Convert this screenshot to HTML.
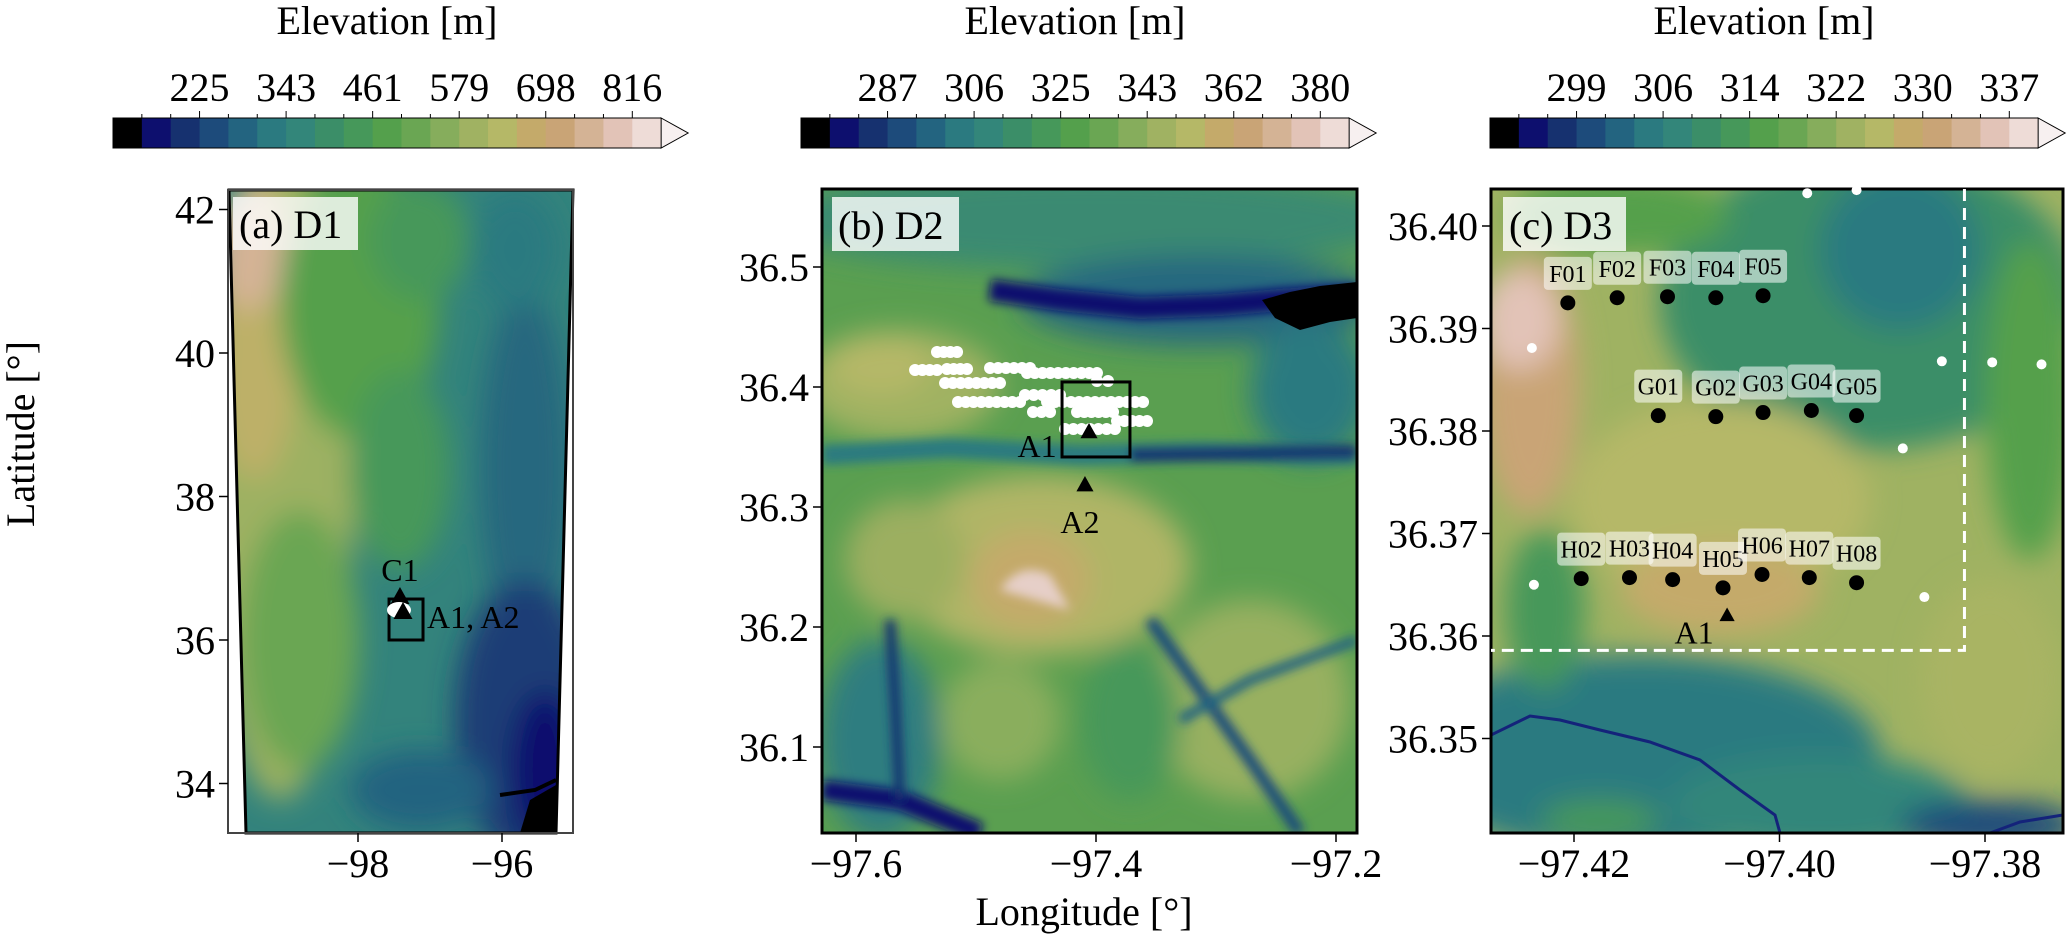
<!DOCTYPE html>
<html><head><meta charset="utf-8"><style>
html,body{margin:0;padding:0;background:#fff;}
svg{display:block;font-family:"Liberation Serif",serif;}
</style></head><body>
<svg id="fig" width="2067" height="934" viewBox="0 0 2067 934" xmlns="http://www.w3.org/2000/svg">
<defs>
<filter id="blur" x="-20%" y="-20%" width="140%" height="140%"><feGaussianBlur stdDeviation="14"/></filter>
<filter id="blur2"><feGaussianBlur stdDeviation="5"/></filter>
<clipPath id="clipA"><polygon points="229,190 573,190 556,833 246,833"/></clipPath>
<clipPath id="clipB"><rect x="822" y="189" width="535" height="644"/></clipPath>
<clipPath id="clipC"><rect x="1491" y="189" width="572" height="644"/></clipPath>
</defs>

<g id="colorbars"></g>

<!-- Panel A terrain -->
<g clip-path="url(#clipA)">
<rect x="228" y="190" width="346" height="644" fill="#33837c"/>
<g filter="url(#blur)">
<ellipse cx="280" cy="470" rx="75" ry="330" fill="#9db162"/>
<ellipse cx="255" cy="330" rx="45" ry="150" fill="#bdb068"/>
<ellipse cx="250" cy="250" rx="35" ry="60" fill="#d4b395"/>
<ellipse cx="360" cy="300" rx="80" ry="140" fill="#54a04c"/>
<ellipse cx="420" cy="240" rx="50" ry="60" fill="#46985a"/>
<ellipse cx="300" cy="640" rx="60" ry="130" fill="#6aa653"/>
<ellipse cx="400" cy="470" rx="50" ry="100" fill="#46985a"/>
<ellipse cx="525" cy="470" rx="45" ry="180" fill="#26687f"/>
<ellipse cx="525" cy="720" rx="70" ry="140" fill="#1a3d76"/>
<ellipse cx="545" cy="770" rx="35" ry="80" fill="#0d0f6e"/>
<ellipse cx="515" cy="250" rx="45" ry="60" fill="#2b7a80"/>
<ellipse cx="420" cy="790" rx="70" ry="40" fill="#236480"/>
</g>
<polygon points="530,800 556,785 556,833 520,833" fill="#000"/>
<path d="M500,795 L535,790 L556,780" stroke="#000" stroke-width="4" fill="none"/>
</g>
<polygon points="229,190 573,190 556,833 246,833" fill="none" stroke="#000" stroke-width="3"/>
<rect x="228" y="190" width="345" height="643" fill="none" stroke="#444" stroke-width="2"/>

<!-- Panel B terrain -->
<g clip-path="url(#clipB)">
<rect x="822" y="189" width="535" height="644" fill="#5a9f50"/>
<g filter="url(#blur)">
<ellipse cx="1090" cy="220" rx="320" ry="50" fill="#3b8a72"/>
<ellipse cx="1200" cy="300" rx="180" ry="45" fill="#26687f"/>
<ellipse cx="1310" cy="390" rx="60" ry="70" fill="#2b7a80"/>
<ellipse cx="900" cy="385" rx="100" ry="55" fill="#a0b262"/>
<ellipse cx="880" cy="365" rx="50" ry="30" fill="#b5b867"/>
<ellipse cx="1040" cy="565" rx="150" ry="90" fill="#b0b566"/>
<ellipse cx="1030" cy="580" rx="60" ry="50" fill="#c4aa6a"/>
<ellipse cx="905" cy="560" rx="60" ry="60" fill="#9caf60"/>
<ellipse cx="880" cy="740" rx="60" ry="100" fill="#2f7d80"/>
<ellipse cx="1250" cy="700" rx="100" ry="100" fill="#98b060"/>
<ellipse cx="1130" cy="720" rx="50" ry="80" fill="#46985a"/>
<ellipse cx="1000" cy="720" rx="60" ry="60" fill="#8aae5d"/>
</g>
<g filter="url(#blur2)">
<path d="M990,290 L1060,300 L1140,308 L1220,305 L1280,300 L1357,295" stroke="#0d0f6e" stroke-width="22" fill="none"/>
<path d="M822,455 L950,448 L1080,455 L1200,452 L1357,455" stroke="#2b7a80" stroke-width="20" fill="none"/>
<path d="M1130,455 L1357,452" stroke="#16316f" stroke-width="14" fill="none"/>
<path d="M1000,590 Q1020,560 1050,575 L1070,610 Z" fill="#e6cfc8"/>
<path d="M822,790 L900,800 L980,833" stroke="#0d0f6e" stroke-width="20" fill="none"/>
<path d="M890,620 L895,700 L900,800" stroke="#16316f" stroke-width="10" fill="none"/>
<path d="M1150,620 L1250,760 L1300,833" stroke="#1d4b7b" stroke-width="12" fill="none"/>
<path d="M1357,640 L1250,680 L1180,720" stroke="#236480" stroke-width="10" fill="none"/>
</g>
<path d="M1262,300 L1290,292 L1320,286 L1357,282 L1357,318 L1330,322 L1300,330 L1275,318 Z" fill="#000"/>
</g>
<rect x="822" y="189" width="535" height="644" fill="none" stroke="#000" stroke-width="3"/>

<!-- Panel C terrain -->
<g clip-path="url(#clipC)">
<rect x="1491" y="189" width="572" height="644" fill="#9fb262"/>
<g filter="url(#blur)">
<ellipse cx="1870" cy="300" rx="210" ry="150" fill="#3b8e68"/>
<ellipse cx="1900" cy="250" rx="80" ry="80" fill="#2b7a80"/>
<ellipse cx="2030" cy="400" rx="45" ry="160" fill="#54a04c"/>
<ellipse cx="1620" cy="215" rx="110" ry="40" fill="#54a04c"/>
<ellipse cx="1530" cy="385" rx="50" ry="130" fill="#c9a476"/>
<ellipse cx="1520" cy="320" rx="40" ry="50" fill="#e2c3b7"/>
<ellipse cx="1720" cy="500" rx="150" ry="100" fill="#b5b867"/>
<ellipse cx="1720" cy="590" rx="100" ry="45" fill="#c4aa6a"/>
<ellipse cx="1640" cy="755" rx="240" ry="100" fill="#2b7a80"/>
<ellipse cx="1820" cy="805" rx="150" ry="50" fill="#33867a"/>
<ellipse cx="1990" cy="825" rx="90" ry="25" fill="#1d4b7b"/>
<ellipse cx="1545" cy="610" rx="40" ry="80" fill="#46985a"/>
<ellipse cx="1990" cy="680" rx="70" ry="100" fill="#a9b463"/>
<ellipse cx="1600" cy="820" rx="60" ry="20" fill="#46985a"/>
</g>
<path d="M1491,735 L1530,716 L1560,720 L1600,730 L1650,742 L1700,760 L1740,790 L1775,815 L1780,833" stroke="#14237a" stroke-width="3" fill="none"/>
<path d="M1990,833 L2020,822 L2063,815" stroke="#14237a" stroke-width="3" fill="none"/>
</g>
<rect x="1491" y="189" width="572" height="644" fill="none" stroke="#000" stroke-width="3"/>

<g id="overlay"></g>

<text x="25" y="434" font-size="40" text-anchor="middle" transform="rotate(-90 25 434)" dominant-baseline="middle">Latitude [°]</text>
<text x="1084" y="925" font-size="40" text-anchor="middle">Longitude [°]</text>
</svg>

<script>
// ---------- colorbar data ----------
const cbColors = ['#000000','#0d0f6e','#16316f','#1d4b7b','#236480','#2b7a80','#33867a','#3b8e68','#46985a','#54a04c','#6aa653','#86ad5c','#a0b262','#b5b867','#c4aa6a','#c9a476','#d4b395','#e2c3b7','#eedcd7'];
const cbArrowColor = '#f7f0f0';
const cbTicks1 = ['225','343','461','579','698','816'];
const cbTicks2 = ['287','306','325','343','362','380'];
const cbTicks3 = ['299','306','314','322','330','337'];

// ---------- panel A data ----------
const aTicksLon = [-98, -96];
const aTicksLat = [42, 40, 38, 36, 34];
const aC1 = [-97.417, 36.60];
const aA1 = [-97.375, 36.39];
const aBox = [-97.569, -97.097, 36.0, 36.571];

// ---------- panel B data ----------
const bTicksLon = [-97.6, -97.4, -97.2];
const bTicksLat = [36.5, 36.4, 36.3, 36.2, 36.1];
const bA1 = [-97.4058, 36.3625];
const bA2 = [-97.4092, 36.3183];
const bBox = [-97.4283, -97.3717, 36.3417, 36.4042];
const bTurbineRowLonStart = [-97.5325,-97.5508,-97.5242,-97.4883,-97.4575,-97.5258,-97.3992,-97.5150,-97.4592,-97.4408,-97.4525,-97.4158,-97.3825,-97.4258];
const bTurbineRowLonEnd   = [-97.5158,-97.5325,-97.5075,-97.4550,-97.3992,-97.4800,-97.3900,-97.4633,-97.4300,-97.3608,-97.4383,-97.3858,-97.3575,-97.3842];
const bTurbineRowLat      = [36.4292,36.4142,36.4150,36.4158,36.4117,36.4033,36.4050,36.3875,36.3933,36.3875,36.3792,36.3792,36.3717,36.3650];

// ---------- panel C data ----------
const cTicksLon = [-97.42, -97.40, -97.38];
const cTicksLat = [36.40, 36.39, 36.38, 36.37, 36.36, 36.35];
const cStationNames = ['F01','F02','F03','F04','F05','G01','G02','G03','G04','G05','H02','H03','H04','H05','H06','H07','H08'];
const cStationLon = [-97.4206,-97.4158,-97.4109,-97.4062,-97.4016,-97.4118,-97.4062,-97.4016,-97.3969,-97.3925,-97.4193,-97.4146,-97.4104,-97.4055,-97.4017,-97.3971,-97.3925];
const cStationLat = [36.3925,36.3930,36.3931,36.3930,36.3932,36.3815,36.3814,36.3818,36.3820,36.3815,36.3656,36.3657,36.3655,36.3647,36.3660,36.3657,36.3652];
const cA1 = [-97.4051, 36.3620];
const cTurbineLon = [-97.3973,-97.3925,-97.4241,-97.3842,-97.3793,-97.3745,-97.3880,-97.4239,-97.3859];
const cTurbineLat = [36.4032,36.4035,36.3881,36.3868,36.3867,36.3865,36.3783,36.3650,36.3638];
const cDashLon = -97.3820, cDashLat = 36.3586;

// ---------- axis functions ----------
const ax = {
  a: {x: lon => 358 + (lon + 98) * 72,     y: lat => 640 - (lat - 36) * 71.75, L:228, B:833},
  b: {x: lon => 856 + (lon + 97.6) * 1200, y: lat => 267 - (lat - 36.5) * 1200, L:822, B:833},
  c: {x: lon => 1574 + (lon + 97.42) * 10275, y: lat => 226 - (lat - 36.40) * 10250, L:1491, B:833}
};

const NS = 'http://www.w3.org/2000/svg';
function mk(tag, attrs, parent) {
  const e = document.createElementNS(NS, tag);
  for (const k in attrs) e.setAttribute(k, attrs[k]);
  parent.appendChild(e);
  return e;
}
const cbG = document.getElementById('colorbars');
const ov = document.getElementById('overlay');

// colorbars
const cbLefts = [113, 801, 1490];
const cbTickSets = [cbTicks1, cbTicks2, cbTicks3];
const cellW = 28.85, cbTop = 118, cbH = 30;
cbLefts.forEach((L, i) => {
  cbColors.forEach((c, k) => {
    const r = mk('rect', {x: L + k * cellW, y: cbTop, width: cellW + 0.6, height: cbH, fill: c}, cbG);
    
    
  });
  const end = L + cbColors.length * cellW;
  const arr = mk('polygon', {points: `${end},${cbTop} ${end + 27},${cbTop + cbH/2} ${end},${cbTop + cbH}`, fill: cbArrowColor, stroke: '#000', 'stroke-width': 1}, cbG);
  
  
  const fr = mk('path', {d: `M${end},${cbTop} L${L},${cbTop} L${L},${cbTop+cbH} L${end},${cbTop+cbH}`, fill: 'none', stroke: '#000', 'stroke-width': 1}, cbG);
  
  
  for (let k = 1; k < cbColors.length; k++) {
    const x = L + k * cellW;
    const major = k % 3 === 0;
    const t = mk('line', {x1: x, x2: x, y1: cbTop, y2: cbTop - (major ? 7 : 4), stroke: '#000', 'stroke-width': 1}, cbG);
    
    
  }
  cbTickSets[i].forEach((lab, j) => {
    const tx = mk('text', {x: L + 3 * (j + 1) * cellW, y: 101, 'font-size': 40, 'text-anchor': 'middle'}, cbG);
    tx.textContent = lab;
    
    
  });
  const ttl = mk('text', {x: L + 274, y: 34, 'font-size': 40, 'text-anchor': 'middle'}, cbG);
  ttl.textContent = 'Elevation [m]';
  
  
});

// axis ticks
function ticks(a, lons, lats, fmtLon, fmtLat) {
  lons.forEach(v => {
    const x = a.x(v);
    const t = mk('line', {x1: x, x2: x, y1: a.B, y2: a.B + 9, stroke: '#000', 'stroke-width': 1.5}, ov);
    
    
    const tx = mk('text', {x: x, y: 877, 'font-size': 40, 'text-anchor': 'middle'}, ov);
    tx.textContent = '\u2212' + fmtLon(Math.abs(v));
    
    
  });
  lats.forEach(v => {
    const y = a.y(v);
    const t = mk('line', {x1: a.L, x2: a.L - 9, y1: y, y2: y, stroke: '#000', 'stroke-width': 1.5}, ov);
    
    
    const tx = mk('text', {x: a.L - 13, y: y + 14, 'font-size': 40, 'text-anchor': 'end'}, ov);
    tx.textContent = fmtLat(v);
    
    
  });
}
ticks(ax.a, aTicksLon, aTicksLat, v => v.toFixed(0), v => v.toFixed(0));
ticks(ax.b, bTicksLon, bTicksLat, v => v.toFixed(1), v => v.toFixed(1));
ticks(ax.c, cTicksLon, cTicksLat, v => v.toFixed(2), v => v.toFixed(2));

function tri(x, y, s) {
  return `M${x},${y - s} L${x + s * 0.95},${y + s * 0.7} L${x - s * 0.95},${y + s * 0.7} Z`;
}
function label(x, y, txt, size, anchor, name) {
  const t = mk('text', {x: x, y: y, 'font-size': size, 'text-anchor': anchor || 'middle'}, ov);
  t.textContent = txt;
  
  
  return t;
}
function panelTag(x, y, w, h, txt, name) {
  const r = mk('rect', {x: x, y: y, width: w, height: h, fill: '#fff', 'fill-opacity': 0.8}, ov);
  
  
  label(x + 6, y + h - 12, txt, 40, 'start', name);
}

// panel A overlay
panelTag(233, 197, 125, 53, '(a) D1', 'panel-a-label');
{
  const a = ax.a;
  const bx = mk('rect', {x: a.x(aBox[0]), y: a.y(aBox[3]), width: a.x(aBox[1]) - a.x(aBox[0]), height: a.y(aBox[2]) - a.y(aBox[3]), fill: 'none', stroke: '#000', 'stroke-width': 3}, ov);
  
  
  const c1 = mk('path', {d: tri(a.x(aC1[0]), a.y(aC1[1]), 10), fill: '#000'}, ov);
  
  
  label(a.x(aC1[0]), a.y(aC1[1]) - 16, 'C1', 32, 'middle', 'site-c1-label');
  const wd = mk('ellipse', {cx: a.x(aA1[0]) - 4, cy: a.y(aA1[1]) - 2, rx: 12, ry: 8, fill: '#fff'}, ov);
  
  
  const a1 = mk('path', {d: tri(a.x(aA1[0]), a.y(aA1[1]), 10), fill: '#000'}, ov);
  
  
  label(a.x(aBox[1]) + 4, a.y(aA1[1]) + 16, 'A1, A2', 32, 'start', 'site-a1-a2-label');
}

// panel B overlay
panelTag(832, 197, 127, 54, '(b) D2', 'panel-b-label');
{
  const b = ax.b;
  bTurbineRowLat.forEach((lat, i) => {
    const x0 = b.x(bTurbineRowLonStart[i]), x1 = b.x(bTurbineRowLonEnd[i]);
    const n = Math.max(1, Math.round((x1 - x0) / 8));
    for (let k = 0; k <= n; k++) {
      const d = mk('circle', {cx: x0 + (x1 - x0) * k / n, cy: b.y(lat), r: 6, fill: '#fff'}, ov);
      
      
    }
  });
  const bx = mk('rect', {x: b.x(bBox[0]), y: b.y(bBox[3]), width: b.x(bBox[1]) - b.x(bBox[0]), height: b.y(bBox[2]) - b.y(bBox[3]), fill: 'none', stroke: '#000', 'stroke-width': 3}, ov);
  
  
  const a1 = mk('path', {d: tri(b.x(bA1[0]), b.y(bA1[1]), 9), fill: '#000'}, ov);
  
  
  label(b.x(bA1[0]) - 52, b.y(bA1[1]) + 25, 'A1', 32, 'middle', 'site-a1-label');
  const a2 = mk('path', {d: tri(b.x(bA2[0]), b.y(bA2[1]), 9), fill: '#000'}, ov);
  
  
  label(b.x(bA2[0]) - 5, b.y(bA2[1]) + 48, 'A2', 32, 'middle', 'site-a2-label');
}

// panel C overlay
{
  const c = ax.c;
  const dx = c.x(cDashLon), dy = c.y(cDashLat);
  const dl = mk('path', {d: `M${dx},189 L${dx},${dy} L1491,${dy}`, fill: 'none', stroke: '#fff', 'stroke-width': 3, 'stroke-dasharray': '12,7'}, ov);
  
  
  cTurbineLat.forEach((lat, i) => {
    const d = mk('circle', {cx: c.x(cTurbineLon[i]), cy: c.y(lat), r: 5, fill: '#fff'}, ov);
    
    
  });
  cStationNames.forEach((nm, i) => {
    const x = c.x(cStationLon[i]), y = c.y(cStationLat[i]);
    const d = mk('circle', {cx: x, cy: y, r: 7.5, fill: '#000'}, ov);
    
    
    const r = mk('rect', {x: x - 24, y: y - 46, width: 48, height: 33, rx: 4, fill: '#fff', 'fill-opacity': 0.55}, ov);
    
    
    label(x, y - 21, nm, 24, 'middle', 'station-label');
  });
  const a1 = mk('path', {d: tri(c.x(cA1[0]), c.y(cA1[1]), 8), fill: '#000'}, ov);
  
  
  label(c.x(cA1[0]) - 33, c.y(cA1[1]) + 28, 'A1', 32, 'middle', 'site-a1-label');
}
panelTag(1503, 197, 123, 54, '(c) D3', 'panel-c-label');
</script>
</body></html>
